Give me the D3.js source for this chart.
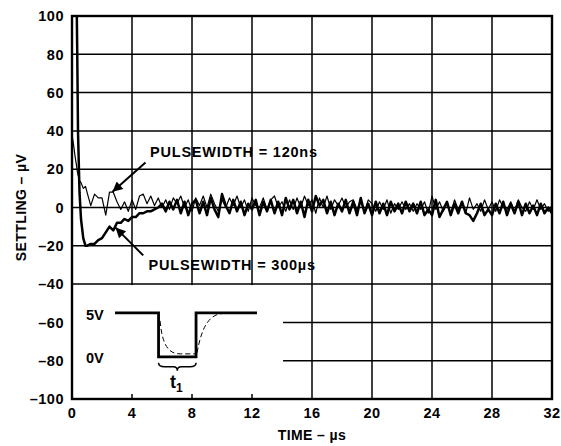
<!DOCTYPE html>
<html>
<head>
<meta charset="utf-8">
<script src="https://cdn.jsdelivr.net/npm/d3@7/dist/d3.min.js"></script>
<style>
  html, body { margin: 0; padding: 0; background: #fff; }
  text { font-family: "Liberation Sans", Arial, Helvetica, sans-serif; font-weight: bold; fill: #000; }
</style>
</head>
<body>
<svg id="chart" width="561" height="446"></svg>
<script>
// ---------------- DATA ----------------
const xTicks = [0, 4, 8, 12, 16, 20, 24, 28, 32];
const xTickLabels = ["0", "4", "8", "12", "16", "20", "24", "28", "32"];
const yTicks = [-100, -80, -60, -40, -20, 0, 20, 40, 60, 80, 100];
const yTickLabels = ["\u2013100", "\u201380", "\u201360", "\u201340", "\u201320", "0", "20", "40", "60", "80", "100"];
const xTitle = "TIME \u2013 \u00b5s";
const yTitle = "SETTLING \u2013 \u00b5V";

// sample times (µs): fine samples during the initial transient, then every 0.25 µs
const headTimes = [0, 0.1, 0.2, 0.3, 0.35, 0.4, 0.5, 0.6, 0.75, 0.9];
const tailTimes = d3.range(1, 32.001, 0.25);

// PULSEWIDTH = 120ns (thin trace), µV
const thinHead = [38, 33, 27, 22, 19, 17, 14, 13, 10, 11];
const thinTail = [
  8, 1, 7, 5,     5, -4, 8, 8,     3, -1, 3, -2,   4, -1, 6, 7,
  2, 6, 1, 5,     0, 4, -1, 5,     2, 6, 0, 4,     -2, 5, 1, 6,
  0, 7, 2, -2,    4, 0, 5, 1,      6, 0, 4, -2,    5, 1, 0, 5,
  -1, 4, 6, 0,    3, -2, 4, -1,    5, 0, 6, 1,     4, -3, 5, 0,
  6, -1, 4, 1,    5, 0, 3, 4,      -1, 3, -2, 4,   2, -2, 3, -1,
  4, -3, 2, -1,   3, -1, 2, -2,    2, -1, 3, -3,   6, -1, 3, -2,
  2, -3, 4, -1,   3, -3, 5, -1,    2, -2, 4, -1,   3, -2, 4, 0,
  -1, 3, -2, 4,   0, -2, 3, -1,    4, -1, 2, -2,   1
];

// PULSEWIDTH = 300µs (thick trace), µV
const thickHead = [140, 140, 140, 115, 80, 40, 8, -6, -16, -20];
const thickTail = [
  -20, -19, -19, -17,  -16, -13, -10, -12,  -8, -8, -6, -7,   -5, -5, -3, -3,
  -2, -2, -1, 0,       2, -2, 3, -1,        4, -3, 3, -4,     2, 4, -3, 3,
  -4, 5, -1, -5,       7, 1, -3, 4,         -2, 3, -4, 2,     -1, 4, -4, 3,
  -2, 4, -3, 3,        -4, 5, -1, 4,        -3, 3, -5, 4,     -2, 6, 1, 4,
  -3, 3, -4, 2,        -2, 4, -3, 3,        -4, 5, -3, 2,     -4, 3, -3, 2,
  -4, 3, -2, 2,        -3, 3, -2, 2,        -3, 3, -4, -1,    -4, 4, -5, -1,
  3, -4, 2, -3,        3, -3, -4, -7,       -3, 2, -4, -1,    -4, 2, -3, 3,
  -4, 2, -3, 3,        -4, 2, -3, 1,        -4, 2, -3, 0,     -3
];

const labels = ["PULSEWIDTH = 120ns", "PULSEWIDTH = 300\u00b5s"];
const insetLevels = ["5V", "0V"];

// ---------------- DRAW ----------------
const svg = d3.select("#chart");
const L = 72, R = 552, T = 16, B = 399;
const x = d3.scaleLinear().domain([0, 32]).range([L, R]);
const y = d3.scaleLinear().domain([-100, 100]).range([B, T]);

// grid
const grid = svg.append("g").attr("stroke", "#000").attr("stroke-width", 1.5);
grid.selectAll("line.v").data(xTicks.slice(1, -1)).join("line")
  .attr("x1", d => x(d)).attr("x2", d => x(d)).attr("y1", T).attr("y2", B);
grid.selectAll("line.h").data(yTicks.slice(1, -1)).join("line")
  .attr("y1", d => y(d)).attr("y2", d => y(d)).attr("x1", L).attr("x2", R);

// traces
svg.append("clipPath").attr("id", "clip").append("rect")
  .attr("x", L).attr("y", T).attr("width", R - L).attr("height", B - T);

const line = d3.line().x(d => x(d[0])).y(d => y(d[1])).curve(d3.curveLinear);
const times = headTimes.concat(tailTimes);
const thinVals = thinHead.concat(thinTail);
const thickVals = thickHead.concat(thickTail);
const thinData = times.map((t, i) => [t, thinVals[i]]);
const thickData = times.map((t, i) => [t, thickVals[i]]);

const traces = svg.append("g").attr("clip-path", "url(#clip)").attr("fill", "none").attr("stroke", "#000")
  .attr("stroke-linejoin", "round");
traces.append("path").datum(thinData).attr("d", line).attr("stroke-width", 1.2);
traces.append("path").datum(thickData).attr("d", line).attr("stroke-width", 2.5);

// inset white box
const box = { x0: x(0) + 1, x1: x(14.07), y0: y(-40) + 1, y1: B - 1 };
svg.append("rect").attr("x", box.x0).attr("y", box.y0)
  .attr("width", box.x1 - box.x0).attr("height", box.y1 - box.y0).attr("fill", "#fff");

// bottom inward ticks inside box
svg.append("g").attr("stroke", "#000").attr("stroke-width", 1.5)
  .selectAll("line").data([4, 8, 12]).join("line")
  .attr("x1", d => x(d)).attr("x2", d => x(d)).attr("y1", B).attr("y2", B - 5);

// frame
svg.append("rect").attr("x", L).attr("y", T).attr("width", R - L).attr("height", B - T)
  .attr("fill", "none").attr("stroke", "#000").attr("stroke-width", 2.4);

// tick labels
svg.append("g").selectAll("text").data(yTicks).join("text")
  .attr("x", L - 8).attr("y", d => y(d)).attr("dy", "0.36em")
  .attr("text-anchor", "end").attr("font-size", 14.5).attr("letter-spacing", "0.5px")
  .text((d, i) => yTickLabels[i]);
svg.append("g").selectAll("text").data(xTicks).join("text")
  .attr("x", d => x(d)).attr("y", 418)
  .attr("text-anchor", "middle").attr("font-size", 14.5).attr("letter-spacing", "0.5px")
  .text((d, i) => xTickLabels[i]);

// titles
svg.append("text").attr("x", x(16)).attr("y", 440).attr("text-anchor", "middle")
  .attr("font-size", 14).attr("letter-spacing", "0.4px").text(xTitle);
svg.append("text").attr("transform", `translate(26,${(T + B) / 2}) rotate(-90)`)
  .attr("text-anchor", "middle").attr("font-size", 14).attr("letter-spacing", "0.4px").text(yTitle);

// annotations
svg.append("defs").append("marker").attr("id", "ah").attr("viewBox", "0 0 10 10")
  .attr("refX", 10).attr("refY", 5).attr("markerWidth", 14).attr("markerHeight", 10)
  .attr("markerUnits", "userSpaceOnUse").attr("orient", "auto")
  .append("path").attr("d", "M0,0 L10,5 L0,10 Z").attr("fill", "#000");

svg.append("text").attr("x", x(5.2)).attr("y", y(26.5)).attr("font-size", 14.5)
  .attr("letter-spacing", "0.8px").text(labels[0]);
svg.append("text").attr("x", x(5.1)).attr("y", y(-32.5)).attr("font-size", 14.5)
  .attr("letter-spacing", "0.8px").text(labels[1]);
svg.append("line").attr("x1", x(4.9)).attr("y1", y(23.5)).attr("x2", x(2.7)).attr("y2", y(8.2))
  .attr("stroke", "#000").attr("stroke-width", 2).attr("marker-end", "url(#ah)");
svg.append("line").attr("x1", x(4.75)).attr("y1", y(-25)).attr("x2", x(2.9)).attr("y2", y(-10.5))
  .attr("stroke", "#000").attr("stroke-width", 2).attr("marker-end", "url(#ah)");

// inset pulse diagram
const hiY = y(-55), loY = y(-78);
const px0 = x(2.87), pxDown = x(5.77), pxUp = x(8.27), px1 = x(12.33);
const inset = svg.append("g");
inset.append("path")
  .attr("d", `M${px0},${hiY} H${pxDown} V${loY} H${pxUp} V${hiY} H${px1}`)
  .attr("fill", "none").attr("stroke", "#000").attr("stroke-width", 2.8).attr("stroke-linejoin", "miter");
inset.append("path")
  .attr("d", `M${pxDown + 1.5},${hiY + 8} C${pxDown + 4},${loY - 8} ${pxDown + 12},${loY - 3} ${pxDown + 22},${loY - 3} L${pxUp},${loY - 3}` +
             ` M${pxUp + 1},${loY - 4} C${pxUp + 6},${hiY + 12} ${pxUp + 14},${hiY + 1} ${pxUp + 28},${hiY + 0.5}`)
  .attr("fill", "none").attr("stroke", "#000").attr("stroke-width", 1).attr("stroke-dasharray", "5,3");
inset.append("text").attr("x", 86).attr("y", hiY + 7).attr("font-size", 14.5).text(insetLevels[0]);
inset.append("text").attr("x", 86).attr("y", loY + 6).attr("font-size", 14.5).text(insetLevels[1]);
const bc = (pxDown + pxUp) / 2, by = loY + 6;
inset.append("path")
  .attr("d", `M${pxDown},${by} Q${pxDown},${by + 4} ${pxDown + 6},${by + 4} L${bc - 4},${by + 4} Q${bc},${by + 4} ${bc},${by + 8}` +
             ` Q${bc},${by + 4} ${bc + 4},${by + 4} L${pxUp - 6},${by + 4} Q${pxUp},${by + 4} ${pxUp},${by}`)
  .attr("fill", "none").attr("stroke", "#000").attr("stroke-width", 1.5);
const t1 = inset.append("text").attr("x", bc - 1).attr("y", by + 25).attr("text-anchor", "middle").attr("font-size", 18);
t1.append("tspan").text("t");
t1.append("tspan").attr("font-size", 12).attr("dy", 4).text("1");
</script>
</body>
</html>
